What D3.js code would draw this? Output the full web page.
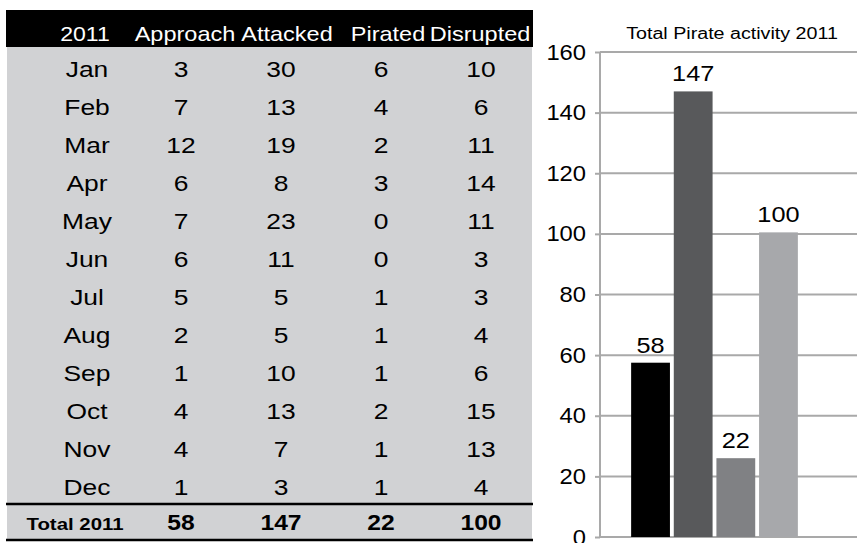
<!DOCTYPE html>
<html><head><meta charset="utf-8">
<script src="https://cdn.jsdelivr.net/npm/d3@7"></script>
<style>body{margin:0;background:#fff}svg{display:block}text{font-family:"Liberation Sans",Arial,sans-serif}</style>
</head><body><svg id="c" width="857" height="543"></svg>
<script>
const months = ["Jan","Feb","Mar","Apr","May","Jun","Jul","Aug","Sep","Oct","Nov","Dec"];
const columns = ["Approach","Attacked","Pirated","Disrupted"];
const approach = [3,7,12,6,7,6,5,2,1,4,4,1];
const attacked = [30,13,19,8,23,11,5,5,10,13,7,3];
const pirated = [6,4,2,3,0,0,1,1,1,2,1,1];
const disrupted = [10,6,11,14,11,3,3,4,6,15,13,4];
const totals = [58,147,22,100];
const barHeights = [57.5,147,26,100.5];
const barColors = ["#000000","#58595b","#808184","#a7a8ab"];
const yTicks = [0,20,40,60,80,100,120,140,160];
const chartTitle = "Total Pirate activity 2011";

const svg = d3.select("#c");
const series = [approach, attacked, pirated, disrupted];

function txt(g, x, y, s, sx){
  return g.append("text").attr("transform",`translate(${x},${y}) scale(${sx},1)`).text(s);
}

// ---- Table ----
const colX = d3.scaleOrdinal().domain(["m",...columns]).range([87,181,281,381,481]);
const rowY = d3.scaleBand().domain(months).range([50,506]);

svg.append("rect").attr("x",7).attr("y",46).attr("width",525).attr("height",494).attr("fill","#d1d2d4");
svg.append("rect").attr("x",6).attr("y",10).attr("width",527).attr("height",37).attr("fill","#000");

const hdr = svg.append("g").attr("font-size",21).attr("fill","#fff").attr("text-anchor","middle");
txt(hdr,85,41,"2011",1.1);
const hdrX = [185,287,388,480];
columns.forEach((c,i)=>txt(hdr,hdrX[i],41,c,1.12));

const body = svg.append("g").attr("font-size",22).attr("fill","#000").attr("text-anchor","middle");
months.forEach((m,r)=>{
  const y = rowY(m)+rowY.bandwidth()/2+8;
  txt(body,colX("m"),y,m,1.2);
  series.forEach((s,i)=>txt(body,colX(columns[i]),y,s[r],1.2));
});

svg.append("line").attr("x1",6).attr("x2",533).attr("y1",504).attr("y2",504).attr("stroke","#000").attr("stroke-width",2.5);
svg.append("line").attr("x1",6).attr("x2",533).attr("y1",540).attr("y2",540).attr("stroke","#000").attr("stroke-width",2.5);
const tot = svg.append("g").attr("font-weight","bold").attr("fill","#000").attr("text-anchor","middle");
txt(tot,75,530,"Total 2011",1.2).attr("font-size",17);
totals.forEach((t,i)=>txt(tot,colX(columns[i]),530,t,1.12).attr("font-size",22));

// ---- Chart ----
const y = d3.scaleLinear().domain([0,160]).range([537,52]);
const x = d3.scaleBand().domain(columns).range([629,800]).paddingInner(0.09).paddingOuter(0.05);

const axis = d3.axisLeft(y).tickValues(yTicks).tickSize(5).tickPadding(8);
const ag = svg.append("g").attr("transform","translate(600,0)").call(axis);
ag.select(".domain").attr("stroke","#a9a9a9").attr("stroke-width",2).attr("d","M0,52V537");
ag.selectAll(".tick line").attr("stroke","#a9a9a9").attr("stroke-width",2);
ag.selectAll(".tick text").attr("font-size",22).attr("fill","#000")
  .attr("font-family","Liberation Sans, Arial, sans-serif")
  .attr("x",null).attr("transform","translate(-14,0) scale(1.08,1)");

svg.append("g").selectAll("line").data(yTicks).join("line")
  .attr("x1",600).attr("x2",857).attr("y1",d=>y(d)).attr("y2",d=>y(d))
  .attr("stroke","#a9a9a9").attr("stroke-width",2);

svg.append("g").selectAll("rect").data(columns).join("rect")
  .attr("x",d=>x(d)).attr("width",x.bandwidth())
  .attr("y",(d,i)=>y(barHeights[i])).attr("height",(d,i)=>y(0)-y(barHeights[i]))
  .attr("fill",(d,i)=>barColors[i]);

const lab = svg.append("g").attr("font-size",22).attr("text-anchor","middle");
columns.forEach((d,i)=>txt(lab,x(d)+x.bandwidth()/2,y(barHeights[i])-10,totals[i],1.15));

const tg = svg.append("g").attr("font-size",16).attr("text-anchor","middle");
txt(tg,732,39,chartTitle,1.23);
</script></body></html>
